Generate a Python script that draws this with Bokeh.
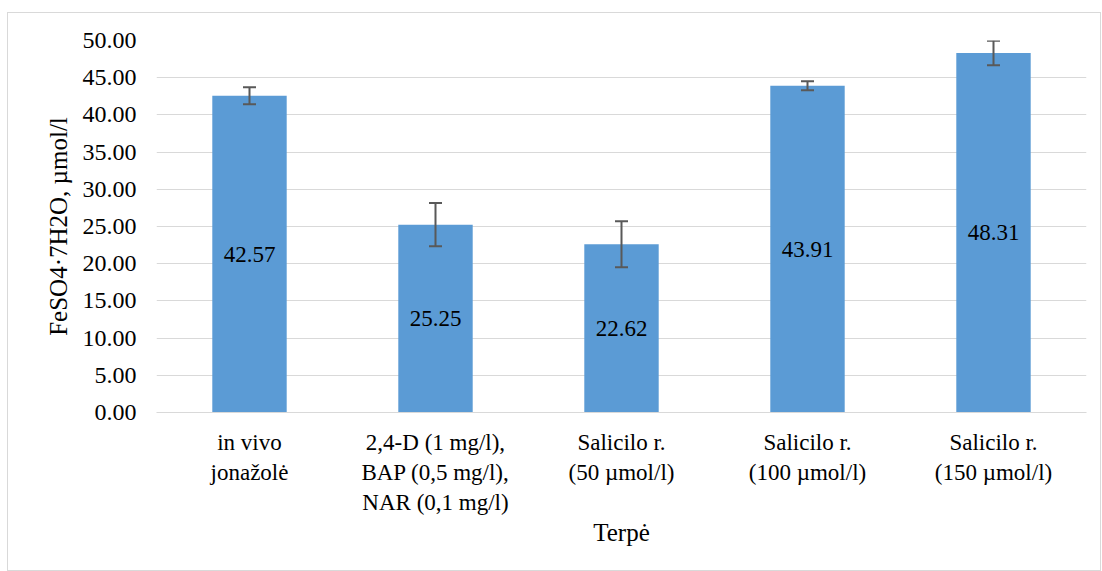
from bokeh.plotting import figure
from bokeh.models import ColumnDataSource, Whisker, TeeHead, NumeralTickFormatter, FixedTicker, Range1d
from bokeh.core.properties import value
from bokeh.embed import file_html
from bokeh.resources import INLINE

categories = ["in vivo\njonažolė", "2,4-D (1 mg/l),\nBAP (0,5 mg/l),\nNAR (0,1 mg/l)",
              "Salicilo r.\n(50 µmol/l)", "Salicilo r.\n(100 µmol/l)", "Salicilo r.\n(150 µmol/l)"]
values = [42.57, 25.25, 22.62, 43.91, 48.31]
errors = [1.15, 2.9, 3.1, 0.6, 1.65]
y_ticks = [0, 5, 10, 15, 20, 25, 30, 35, 40, 45, 50]

FONT = "Liberation Serif"

src = ColumnDataSource(dict(
    cat=categories,
    val=values,
    upper=[v + e for v, e in zip(values, errors)],
    lower=[v - e for v, e in zip(values, errors)],
    mid=[v / 2 for v in values],
    lab=["%.2f" % v for v in values],
))

p = figure(x_range=categories, y_range=Range1d(0, 50), width=1094, height=559,
           output_backend="svg", toolbar_location=None,
           min_border_left=148, min_border_right=16, min_border_top=27, min_border_bottom=160)
p.styles = {"border": "1px solid #d9d9d9", "margin-left": "7px", "margin-top": "12px"}
p.outline_line_color = None

p.vbar(x="cat", top="val", width=0.4, source=src, fill_color="#5B9BD5", line_color=None)

w = Whisker(base="cat", upper="upper", lower="lower", source=src,
            line_color="#595959", line_width=2, level="overlay",
            upper_head=TeeHead(size=13, line_color="#595959", line_width=2),
            lower_head=TeeHead(size=13, line_color="#595959", line_width=2))
p.add_layout(w)

p.text(x="cat", y="mid", text="lab", source=src, text_align="center", text_baseline="middle",
       text_font=value(FONT), text_font_size="23px", text_font_style="normal", text_color="#000000")

p.xgrid.grid_line_color = None
p.ygrid.grid_line_color = "#d9d9d9"
p.ygrid.grid_line_width = 1

p.yaxis.ticker = FixedTicker(ticks=y_ticks)
p.yaxis.formatter = NumeralTickFormatter(format="0.00")
p.yaxis.axis_line_color = None
p.yaxis.major_tick_line_color = None
p.yaxis.minor_tick_line_color = None
p.yaxis.major_label_standoff = 14
p.yaxis.axis_label = "FeSO4·7H2O, µmol/l"
p.yaxis.axis_label_standoff = 8

p.xaxis.axis_line_color = "#d9d9d9"
p.xaxis.axis_line_width = 1
p.xaxis.major_tick_line_color = None
p.xaxis.minor_tick_line_color = None
p.xaxis.major_label_standoff = 11
p.xaxis.axis_label = "Terpė"
p.xaxis.axis_label_standoff = 1

for ax in (p.xaxis, p.yaxis):
    ax.major_label_text_font = FONT
    ax.major_label_text_font_style = "normal"
    ax.major_label_text_color = "#000000"
    ax.axis_label_text_font = FONT
    ax.axis_label_text_font_size = "25px"
    ax.axis_label_text_font_style = "normal"
    ax.axis_label_text_color = "#000000"
p.xaxis.major_label_text_font_size = "23px"
p.yaxis.major_label_text_font_size = "24px"

open("out.html", "w").write(file_html(p, INLINE))
